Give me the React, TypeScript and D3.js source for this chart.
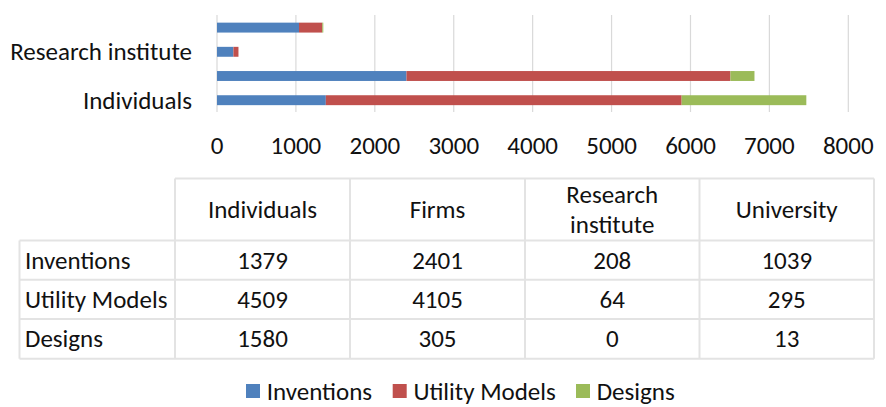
import React from 'react';
import * as d3 from 'd3';

const categories = ['Individuals', 'Firms', 'Research institute', 'University'];
const seriesNames = ['Inventions', 'Utility Models', 'Designs'];
const inventions = [1379, 2401, 208, 1039];
const utilityModels = [4509, 4105, 64, 295];
const designs = [1580, 305, 0, 13];
const xTicks = [0, 1000, 2000, 3000, 4000, 5000, 6000, 7000, 8000];
const shownAxisLabels = ['Individuals', 'Research institute'];
const headerLines = [['Individuals'], ['Firms'], ['Research', 'institute'], ['University']];
const seriesColors = ['#4F81BD', '#C0504D', '#9BBB59'];

const W = 886;
const H = 407;
const FONT = 'Carlito, Calibri, Lato, sans-serif';
const FS = 25;
const TEXT = '#111';
const GRID = '#D9D9D9';
const TABLE_LINE = '#E3E3E3';

export default function App() {
  const rows = categories.map((c, i) => ({
    category: c,
    Inventions: inventions[i],
    'Utility Models': utilityModels[i],
    Designs: designs[i],
  }));
  const stacked = d3.stack<any>().keys(seriesNames)(rows);

  const x = d3.scaleLinear().domain([0, 8000]).range([217, 848.3]);
  const y = d3
    .scaleBand<string>()
    .domain([...categories].reverse())
    .range([15.5, 112.3])
    .paddingInner(0.59)
    .paddingOuter(0.295);

  const colEdges = [19.5, 175, 350, 525, 699.5, 874];
  const rowEdges = [178.5, 240.5, 279.7, 319, 358.7];
  const tableValues = [inventions, utilityModels, designs];

  const legendX = [246, 392.7, 576];

  return (
    <div style={{ position: 'absolute', left: 0, top: 0 }}>
      <svg width={W} height={H} style={{ display: 'block', background: '#fff' }} fontFamily={FONT}>
        {/* gridlines */}
        {xTicks.map((t) => (
          <line key={'g' + t} x1={x(t)} x2={x(t)} y1={15} y2={112} stroke={GRID} strokeWidth={1.2} />
        ))}
        {/* bars */}
        {stacked.map((s, si) => (
          <g key={s.key} fill={seriesColors[si]}>
            {s.map((d, i) => (
              <rect
                key={i}
                x={x(d[0])}
                y={y(rows[i].category)}
                width={Math.max(0, x(d[1]) - x(d[0]))}
                height={y.bandwidth()}
              />
            ))}
          </g>
        ))}
        {/* category labels */}
        {shownAxisLabels.map((c) => (
          <text
            key={c}
            x={192}
            y={(y(c) as number) + y.bandwidth() / 2 + 8.5}
            textAnchor="end"
            fontSize={FS}
            fill={TEXT}
          >
            {c}
          </text>
        ))}
        {/* tick labels */}
        {xTicks.map((t) => (
          <text key={'t' + t} x={x(t)} y={154} textAnchor="middle" fontSize={FS} fill={TEXT}>
            {t}
          </text>
        ))}
        {/* table lines */}
        <g stroke={TABLE_LINE} strokeWidth={2} fill="none">
          <line x1={colEdges[1]} x2={colEdges[5]} y1={rowEdges[0]} y2={rowEdges[0]} />
          {rowEdges.slice(1).map((ry, i) => (
            <line key={'r' + i} x1={colEdges[0]} x2={colEdges[5]} y1={ry} y2={ry} />
          ))}
          <line x1={colEdges[0]} x2={colEdges[0]} y1={rowEdges[1]} y2={rowEdges[4]} />
          {colEdges.slice(1).map((cx, i) => (
            <line key={'c' + i} x1={cx} x2={cx} y1={rowEdges[0]} y2={rowEdges[4]} />
          ))}
        </g>
        {/* header */}
        {headerLines.map((lines, ci) => {
          const cx = (colEdges[ci + 1] + colEdges[ci + 2]) / 2;
          const cy = (rowEdges[0] + rowEdges[1]) / 2;
          const lh = 30;
          return (
            <text key={'h' + ci} textAnchor="middle" fontSize={FS} fill={TEXT}>
              {lines.map((l, li) => (
                <tspan key={li} x={cx} y={cy + 8.5 + (li - (lines.length - 1) / 2) * lh}>
                  {l}
                </tspan>
              ))}
            </text>
          );
        })}
        {/* rows */}
        {seriesNames.map((s, ri) => {
          const cy = (rowEdges[ri + 1] + rowEdges[ri + 2]) / 2 + 8.5;
          return (
            <g key={'row' + s}>
              <text x={25} y={cy} fontSize={FS} fill={TEXT}>
                {s}
              </text>
              {tableValues[ri].map((v, ci) => (
                <text
                  key={ci}
                  x={(colEdges[ci + 1] + colEdges[ci + 2]) / 2}
                  y={cy}
                  textAnchor="middle"
                  fontSize={FS}
                  fill={TEXT}
                >
                  {v}
                </text>
              ))}
            </g>
          );
        })}
        {/* legend */}
        {seriesNames.map((s, i) => (
          <g key={'l' + s}>
            <rect x={legendX[i]} y={384} width={14} height={14} fill={seriesColors[i]} />
            <text x={legendX[i] + 20.7} y={400} fontSize={FS} fill={TEXT}>
              {s}
            </text>
          </g>
        ))}
      </svg>
    </div>
  );
}
